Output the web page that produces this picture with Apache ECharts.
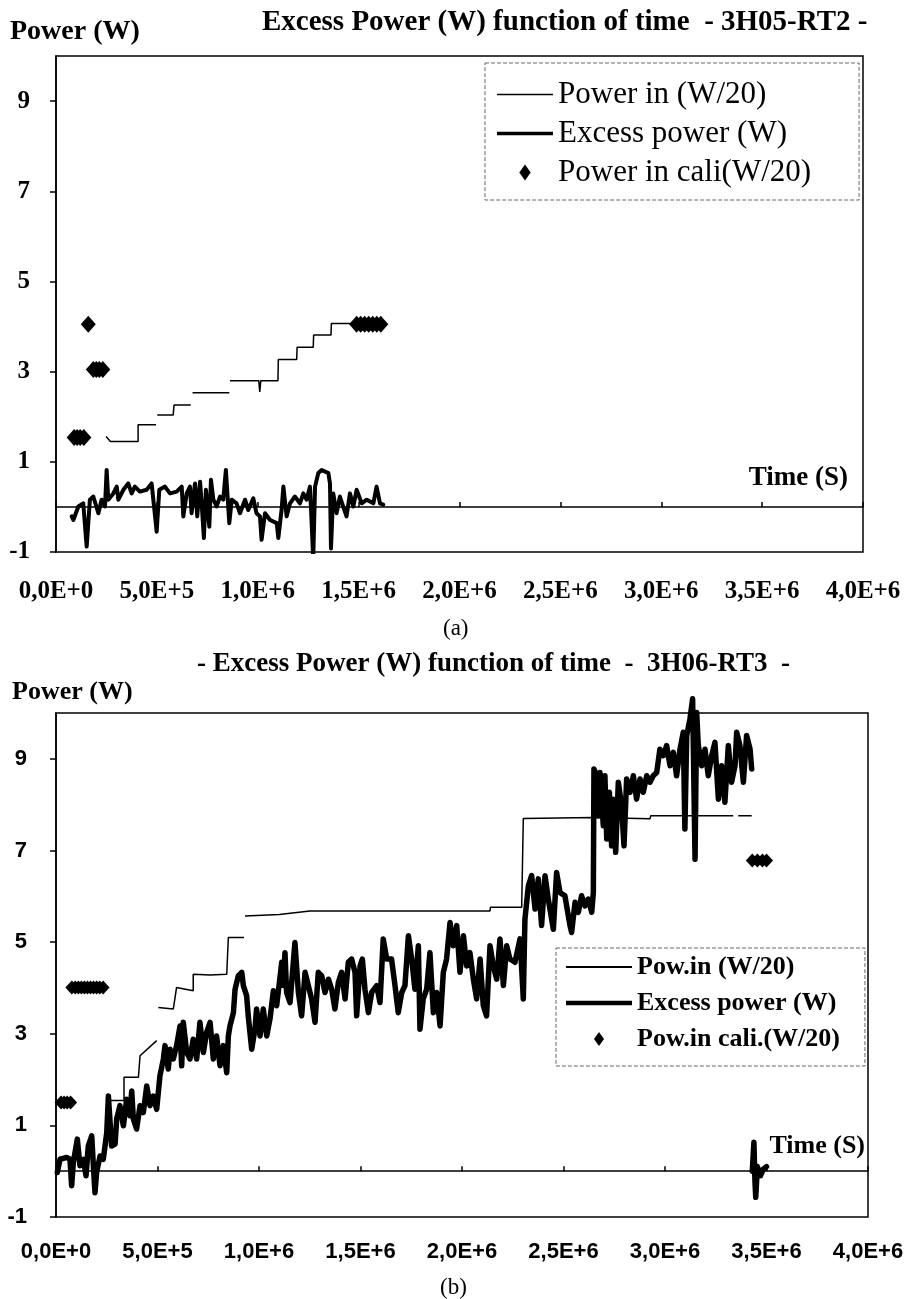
<!DOCTYPE html>
<html>
<head>
<meta charset="utf-8">
<script src="https://cdn.jsdelivr.net/npm/echarts@6/dist/echarts.min.js"></script>
<style>
  html, body { margin: 0; padding: 0; background: #fff; }
  #chart { width: 907px; height: 1299px; }
</style>
</head>
<body>
<div id="chart"></div>
<script>
// axis ticks
const xTickLabels = ['0,0E+0', '5,0E+5', '1,0E+6', '1,5E+6', '2,0E+6', '2,5E+6', '3,0E+6', '3,5E+6', '4,0E+6'];
const yTickValues = [-1, 1, 3, 5, 7, 9];

// (a) 3H05-RT2 -- [time (s), power (W)], null = gap
const powerInA = [
  [2.48e5, 1.56], [2.7e5, 1.45], [4.07e5, 1.45], [4.07e5, 1.82], [4.96e5, 1.82], null,
  [5.02e5, 2.04], [5.81e5, 2.04], [5.85e5, 2.26], [6.68e5, 2.26], null,
  [6.77e5, 2.53], [8.59e5, 2.53], null,
  [8.62e5, 2.80], [1.005e6, 2.80], [1.01e6, 2.55], [1.015e6, 2.80], [1.10e6, 2.80],
  [1.102e6, 3.27], [1.193e6, 3.27], [1.195e6, 3.54], [1.275e6, 3.54],
  [1.277e6, 3.81], [1.363e6, 3.81], [1.365e6, 4.07], [1.473e6, 4.07]
];
const excessA = [
  [7.8e4, -0.21], [8.6e4, -0.29], [1.11e5, 0.01], [1.35e5, 0.08], [1.52e5, -0.88], [1.68e5, 0.16],
  [1.85e5, 0.23], [2.10e5, -0.14], [2.26e5, 0.16], [2.43e5, 0.01], [2.51e5, 0.82], [2.59e5, 0.16],
  [2.84e5, 0.30], [3.01e5, 0.45], [3.09e5, 0.16], [3.34e5, 0.38], [3.58e5, 0.52], [3.75e5, 0.30],
  [3.91e5, 0.45], [4.16e5, 0.34], [4.49e5, 0.38], [4.74e5, 0.52], [4.86e5, 0.01], [4.99e5, -0.55],
  [5.12e5, 0.38], [5.40e5, 0.45], [5.65e5, 0.30], [5.98e5, 0.34], [6.23e5, 0.45], [6.31e5, -0.21],
  [6.48e5, 0.30], [6.64e5, 0.45], [6.72e5, -0.14], [6.89e5, 0.52], [7.00e5, -0.21], [7.14e5, 0.56],
  [7.22e5, 0.08], [7.33e5, -0.69], [7.43e5, 0.38], [7.60e5, -0.44], [7.68e5, 0.60], [7.80e5, 0.16],
  [7.96e5, 0.01], [8.13e5, 0.23], [8.29e5, 0.16], [8.42e5, 0.82], [8.59e5, -0.36], [8.71e5, 0.16],
  [8.95e5, 0.08], [9.12e5, -0.14], [9.37e5, 0.16], [9.53e5, -0.07], [9.78e5, 0.19], [9.94e5, -0.14],
  [1.011e6, -0.21], [1.019e6, -0.73], [1.036e6, -0.14], [1.061e6, -0.29], [1.094e6, -0.36], [1.102e6, -0.69],
  [1.118e6, -0.07], [1.127e6, 0.45], [1.143e6, -0.21], [1.160e6, 0.08], [1.184e6, 0.23], [1.209e6, 0.08],
  [1.226e6, 0.30], [1.242e6, 0.16], [1.259e6, 0.45], [1.275e6, -1.14], [1.284e6, 0.45], [1.300e6, 0.75],
  [1.317e6, 0.82], [1.350e6, 0.75], [1.358e6, 0.52], [1.363e6, -0.92], [1.374e6, 0.30], [1.391e6, -0.14],
  [1.407e6, 0.23], [1.440e6, -0.21], [1.457e6, 0.30], [1.474e6, 0.01], [1.490e6, 0.38], [1.515e6, 0.08],
  [1.540e6, 0.16], [1.573e6, 0.08], [1.589e6, 0.45], [1.606e6, 0.08], [1.622e6, 0.05]
];
const caliA = [
  [9.0e4, 1.54], [1.05e5, 1.54], [1.2e5, 1.54], [1.38e5, 1.54],
  [1.6e5, 4.05],
  [1.85e5, 3.05], [2.0e5, 3.05], [2.15e5, 3.05], [2.32e5, 3.05],
  [1.49e6, 4.05], [1.51e6, 4.05], [1.53e6, 4.05], [1.55e6, 4.05], [1.57e6, 4.05], [1.59e6, 4.05], [1.61e6, 4.05]
];

// (b) 3H06-RT3
const powerInB = [
  [2.66e5, 1.54], [3.35e5, 1.54], [3.35e5, 2.05], [4.06e5, 2.05], [4.14e5, 2.52], [4.96e5, 2.85], null,
  [5.04e5, 3.57], [5.78e5, 3.54], [5.94e5, 4.01], [6.76e5, 3.94], [6.76e5, 4.30], [7.6e5, 4.28], [8.41e5, 4.30],
  [8.49e5, 5.10], [9.26e5, 5.10], null,
  [9.31e5, 5.57], [1.1e6, 5.60], [1.251e6, 5.68], [2.138e6, 5.68], [2.14e6, 5.76], [2.294e6, 5.76],
  [2.302e6, 7.70], [2.647e6, 7.72], [2.926e6, 7.69], [2.93e6, 7.76], [3.336e6, 7.76], null,
  [3.361e6, 7.76], [3.427e6, 7.76]
];
const excessB = [
  [6.5e3, -0.03], [1.97e4, 0.26], [5.25e4, 0.30], [6.89e4, 0.26], [7.71e4, -0.32], [8.53e4, 0.19],
  [1.05e5, 0.70], [1.18e5, 0.12], [1.35e5, 0.26], [1.48e5, -0.10], [1.59e5, 0.55], [1.76e5, 0.77],
  [1.84e5, 0.12], [1.92e5, -0.47], [2.00e5, -0.03], [2.17e5, 0.33], [2.33e5, 0.26], [2.50e5, 0.84],
  [2.58e5, 1.64], [2.74e5, 0.55], [2.91e5, 0.59], [2.99e5, 1.14], [3.15e5, 1.43], [3.32e5, 0.99],
  [3.48e5, 1.57], [3.64e5, 1.21], [3.73e5, 1.75], [3.81e5, 1.14], [3.97e5, 0.92], [4.14e5, 1.43],
  [4.30e5, 1.28], [4.47e5, 1.86], [4.63e5, 1.43], [4.79e5, 1.64], [4.96e5, 1.35], [5.04e5, 1.72],
  [5.12e5, 2.08], [5.29e5, 2.45], [5.37e5, 2.74], [5.53e5, 2.23], [5.62e5, 2.66], [5.78e5, 2.45],
  [5.94e5, 2.74], [6.11e5, 3.17], [6.19e5, 2.30], [6.27e5, 3.25], [6.44e5, 2.59], [6.60e5, 2.45],
  [6.76e5, 2.88], [6.93e5, 2.45], [7.09e5, 3.25], [7.26e5, 2.59], [7.42e5, 3.03], [7.59e5, 3.25],
  [7.75e5, 2.45], [7.91e5, 2.95], [8.08e5, 2.30], [8.24e5, 2.74], [8.41e5, 2.15], [8.49e5, 2.95],
  [8.57e5, 3.17], [8.74e5, 3.46], [8.82e5, 3.97], [8.98e5, 4.26], [9.15e5, 4.34], [9.23e5, 4.05],
  [9.39e5, 3.83], [9.47e5, 3.39], [9.64e5, 2.66], [9.80e5, 3.10], [9.88e5, 3.54], [1.005e6, 2.95],
  [1.021e6, 3.54], [1.038e6, 2.95], [1.054e6, 3.32], [1.071e6, 3.94], [1.087e6, 3.61], [1.112e6, 4.56],
  [1.120e6, 4.05], [1.128e6, 4.77], [1.136e6, 3.90], [1.153e6, 3.68], [1.177e6, 4.99], [1.194e6, 3.90],
  [1.210e6, 3.39], [1.227e6, 4.34], [1.243e6, 4.05], [1.259e6, 3.76], [1.276e6, 3.25], [1.292e6, 4.34],
  [1.309e6, 4.26], [1.325e6, 3.90], [1.342e6, 4.19], [1.358e6, 3.97], [1.374e6, 3.54], [1.391e6, 4.12],
  [1.407e6, 4.34], [1.424e6, 3.76], [1.440e6, 4.56], [1.456e6, 4.63], [1.473e6, 4.34], [1.481e6, 3.39],
  [1.498e6, 4.48], [1.509e6, 4.63], [1.522e6, 3.97], [1.539e6, 3.46], [1.555e6, 3.90], [1.580e6, 4.05],
  [1.596e6, 3.68], [1.612e6, 5.07], [1.629e6, 4.63], [1.653e6, 4.63], [1.670e6, 4.05], [1.686e6, 3.46],
  [1.703e6, 3.90], [1.719e6, 4.05], [1.736e6, 5.14], [1.752e6, 4.63], [1.768e6, 3.97], [1.785e6, 4.92],
  [1.793e6, 3.10], [1.809e6, 3.76], [1.826e6, 3.97], [1.842e6, 4.77], [1.859e6, 3.46], [1.875e6, 3.90],
  [1.892e6, 3.17], [1.908e6, 4.34], [1.924e6, 4.63], [1.941e6, 5.43], [1.957e6, 4.92], [1.974e6, 5.36],
  [1.990e6, 4.34], [2.007e6, 5.14], [2.023e6, 4.48], [2.039e6, 4.77], [2.056e6, 4.19], [2.072e6, 3.76],
  [2.089e6, 4.63], [2.105e6, 3.61], [2.121e6, 3.39], [2.138e6, 4.92], [2.154e6, 4.48], [2.171e6, 4.19],
  [2.187e6, 5.07], [2.204e6, 4.05], [2.220e6, 4.92], [2.236e6, 4.63], [2.261e6, 4.56], [2.286e6, 5.07],
  [2.302e6, 3.76], [2.310e6, 5.50], [2.327e6, 6.23], [2.343e6, 6.45], [2.360e6, 5.72], [2.376e6, 6.38],
  [2.392e6, 5.36], [2.409e6, 6.45], [2.425e6, 5.94], [2.450e6, 5.28], [2.466e6, 6.52], [2.483e6, 6.08],
  [2.507e6, 6.01], [2.532e6, 5.36], [2.540e6, 5.21], [2.557e6, 5.87], [2.573e6, 5.65], [2.589e6, 6.01],
  [2.606e6, 5.79], [2.622e6, 5.94], [2.639e6, 5.65], [2.647e6, 6.08], [2.650e6, 8.78], [2.663e6, 8.63],
  [2.672e6, 7.76], [2.680e6, 8.70], [2.696e6, 7.54], [2.704e6, 8.63], [2.713e6, 7.25], [2.726e6, 8.27],
  [2.737e6, 7.10], [2.745e6, 8.12], [2.757e6, 6.96], [2.770e6, 8.49], [2.786e6, 7.98], [2.798e6, 7.10],
  [2.811e6, 8.56], [2.828e6, 8.27], [2.844e6, 8.63], [2.860e6, 8.12], [2.877e6, 8.56], [2.893e6, 8.27],
  [2.910e6, 8.63], [2.926e6, 8.49], [2.942e6, 8.63], [2.959e6, 8.70], [2.975e6, 9.21], [2.992e6, 9.07],
  [3.008e6, 9.29], [3.025e6, 8.85], [3.041e6, 9.14], [3.057e6, 8.63], [3.074e6, 9.21], [3.090e6, 9.58],
  [3.098e6, 7.47], [3.107e6, 9.51], [3.123e6, 9.87], [3.136e6, 10.31], [3.148e6, 6.81], [3.156e6, 10.01],
  [3.164e6, 9.29], [3.181e6, 8.85], [3.197e6, 9.21], [3.213e6, 8.63], [3.230e6, 9.07], [3.246e6, 9.36],
  [3.263e6, 8.12], [3.279e6, 8.85], [3.295e6, 8.05], [3.312e6, 9.29], [3.328e6, 8.49], [3.345e6, 8.85],
  [3.353e6, 9.58], [3.369e6, 9.29], [3.386e6, 8.49], [3.402e6, 9.51], [3.419e6, 9.21], [3.427e6, 8.78], null,
  [3.430e6, 0.0], [3.438e6, 0.63], [3.443e6, -0.2], [3.447e6, -0.57], [3.455e6, 0.1], [3.470e6, -0.1],
  [3.485e6, 0.05], [3.500e6, 0.1]
];
const caliB = [
  [2.5e4, 1.5], [4.0e4, 1.5], [5.5e4, 1.5], [7.2e4, 1.5],
  [7.8e4, 4.01], [9.5e4, 4.01], [1.1e5, 4.01], [1.25e5, 4.01], [1.4e5, 4.01], [1.55e5, 4.01],
  [1.7e5, 4.01], [1.85e5, 4.01], [2.0e5, 4.01], [2.15e5, 4.01], [2.32e5, 4.01],
  [3.43e6, 6.78], [3.455e6, 6.78], [3.48e6, 6.78], [3.50e6, 6.78]
];

const serif = 'Liberation Serif';
const sans = 'Liberation Sans';
const gaps = arr => arr.map(p => p || ['-', '-']);

function xAxes(grid, font, size, margin, nameSize, nameGap, namePad) {
  return [
    {
      gridIndex: grid, type: 'value', min: 0, max: 4e6, interval: 5e5,
      axisLine: { onZero: true, lineStyle: { color: '#000', width: 1.5 } },
      axisTick: { inside: true, length: 5, lineStyle: { color: '#000', width: 1.5 } },
      axisLabel: { show: false },
      splitLine: { show: false },
      name: 'Time (S)', nameLocation: 'end', nameGap: nameGap,
      nameTextStyle: {
        align: 'right', verticalAlign: 'bottom', padding: [0, 0, namePad, 0],
        fontFamily: serif, fontWeight: 'bold', fontSize: nameSize, color: '#000'
      }
    },
    {
      gridIndex: grid, type: 'value', min: 0, max: 4e6, interval: 5e5, position: 'bottom',
      axisLine: { show: false, onZero: false },
      axisTick: { show: false },
      splitLine: { show: false },
      axisLabel: {
        margin: margin, fontFamily: font, fontWeight: 'bold', fontSize: size, color: '#000',
        formatter: v => xTickLabels[Math.round(v / 5e5)]
      }
    }
  ];
}

function yAxis(grid, font, size, margin) {
  return {
    gridIndex: grid, type: 'value', min: -1, max: 10,
    axisLine: { show: true, onZero: false, lineStyle: { color: '#000', width: 1.5 } },
    axisTick: { show: true, length: 6, customValues: yTickValues, lineStyle: { color: '#000', width: 1.5 } },
    axisLabel: {
      customValues: yTickValues, margin: margin,
      fontFamily: font, fontWeight: 'bold', fontSize: size, color: '#000'
    },
    splitLine: { show: false }
  };
}

function titleText(text, left, top, size, weight) {
  return {
    text: text, left: left, top: top, padding: 0,
    textStyle: { fontFamily: serif, fontWeight: weight || 'bold', fontSize: size, color: '#000' }
  };
}

const thinIcon = 'path://M0,0H60V1.6H0Z';
const thickIcon = 'path://M0,0H60V4H0Z';
const diamondIcon = 'path://M5,0L10,7L5,14L0,7Z';

const chart = echarts.init(document.getElementById('chart'));
chart.setOption({
  animation: false,
  backgroundColor: '#fff',
  title: [
    titleText('Power (W)', 10, 18, 28),
    titleText('Excess Power (W) function of time  - 3H05-RT2 -', 262, 8, 29),
    titleText('(a)', 443, 617, 23, 'normal'),
    titleText('Power (W)', 12, 679, 26),
    titleText('- Excess Power (W) function of time  -  3H06-RT3  -', 197, 651, 27),
    titleText('(b)', 440, 1276, 23, 'normal')
  ],
  legend: [
    {
      orient: 'vertical', left: 485, top: 63, padding: [16, 48, 12, 12],
      itemGap: 8, itemWidth: 56, itemHeight: 16,
      borderColor: '#666', borderWidth: 1, borderType: 'dashed',
      textStyle: { fontFamily: serif, fontSize: 31, color: '#000' },
      data: [
        { name: 'Power in (W/20)', icon: thinIcon },
        { name: 'Excess power (W)', icon: thickIcon },
        { name: 'Power in cali(W/20)', icon: diamondIcon }
      ]
    },
    {
      orient: 'vertical', left: 556, top: 948, padding: [6, 25, 14, 10],
      itemGap: 10, itemWidth: 66, itemHeight: 14,
      borderColor: '#666', borderWidth: 1, borderType: 'dashed',
      textStyle: { fontFamily: serif, fontWeight: 'bold', fontSize: 26, color: '#000' },
      data: [
        { name: 'Pow.in (W/20)', icon: thinIcon },
        { name: 'Excess power (W)', icon: thickIcon },
        { name: 'Pow.in cali.(W/20)', icon: diamondIcon }
      ]
    }
  ],
  grid: [
    { left: 56, top: 56, width: 807, height: 496, show: true, borderColor: '#000', borderWidth: 1.5 },
    { left: 56, top: 713, width: 812, height: 504, show: true, borderColor: '#000', borderWidth: 1.5 }
  ],
  xAxis: [].concat(
    xAxes(0, serif, 25, 27, 27, -15, 15),
    xAxes(1, sans, 22, 24, 26, -3, 12)
  ),
  yAxis: [
    yAxis(0, serif, 25, 26),
    yAxis(1, sans, 22, 29)
  ],
  series: [
    {
      name: 'Power in (W/20)', type: 'line', xAxisIndex: 0, yAxisIndex: 0,
      symbol: 'none', data: gaps(powerInA),
      lineStyle: { color: '#000', width: 1.5 }, itemStyle: { color: '#000' }
    },
    {
      name: 'Excess power (W)', type: 'line', xAxisIndex: 0, yAxisIndex: 0,
      symbol: 'none', data: gaps(excessA),
      lineStyle: { color: '#000', width: 4, join: 'round', cap: 'round' }, itemStyle: { color: '#000' }
    },
    {
      name: 'Power in cali(W/20)', type: 'scatter', xAxisIndex: 0, yAxisIndex: 0,
      symbol: 'diamond', symbolSize: [15, 17], data: caliA,
      itemStyle: { color: '#000', opacity: 1 }
    },
    {
      name: 'Pow.in (W/20)', type: 'line', xAxisIndex: 2, yAxisIndex: 1,
      symbol: 'none', data: gaps(powerInB),
      lineStyle: { color: '#000', width: 1.5 }, itemStyle: { color: '#000' }
    },
    {
      name: 'Excess power (W)', type: 'line', xAxisIndex: 2, yAxisIndex: 1,
      symbol: 'none', data: gaps(excessB), clip: false,
      lineStyle: { color: '#000', width: 5.5, join: 'round', cap: 'round' }, itemStyle: { color: '#000' }
    },
    {
      name: 'Pow.in cali.(W/20)', type: 'scatter', xAxisIndex: 2, yAxisIndex: 1,
      symbol: 'diamond', symbolSize: [13, 14], data: caliB,
      itemStyle: { color: '#000', opacity: 1 }
    }
  ]
});
</script>
</body>
</html>
